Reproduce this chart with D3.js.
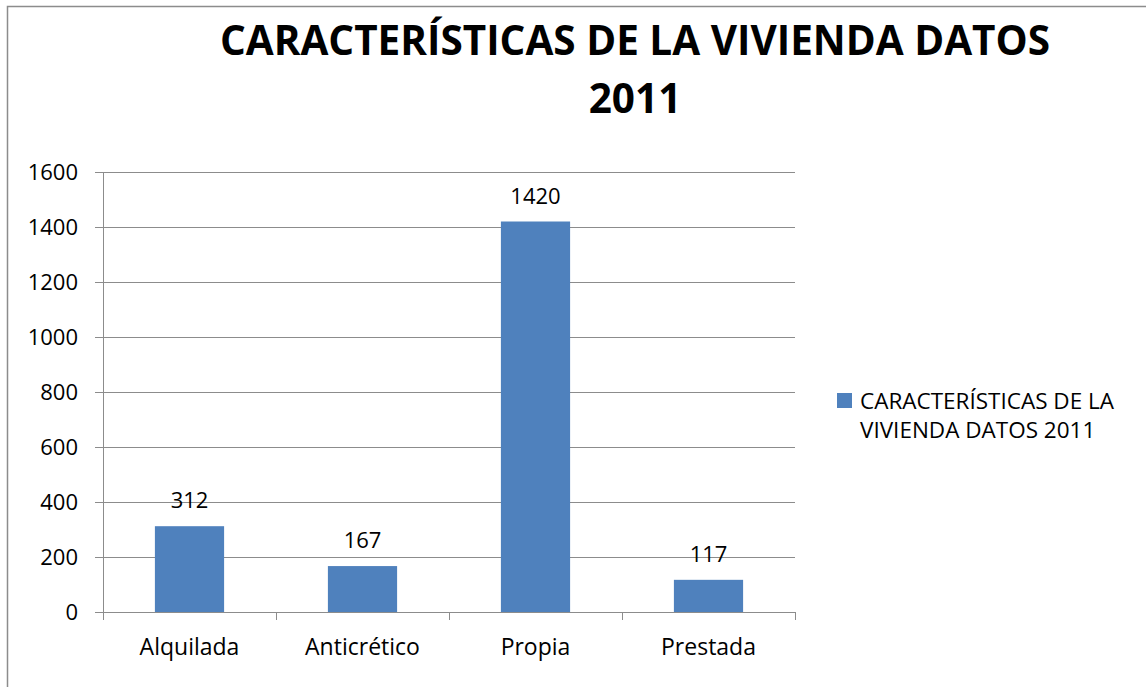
<!DOCTYPE html>
<html>
<head>
<meta charset="utf-8">
<title>Características de la vivienda</title>
<script src="https://cdn.jsdelivr.net/npm/d3@7"></script>
<style>
body { margin:0; background:#fff; }
.grid line { stroke:#8c8c8c; shape-rendering:crispEdges; }
.grid path { stroke-width:0; }
.axis path, .axis line { stroke:#8c8c8c; shape-rendering:crispEdges; }
text { font-family:"Open Sans", "Liberation Sans", sans-serif; fill:#000; }
</style>
</head>
<body>
<svg id="chart" width="1146" height="687"></svg>
<script>
// ---- data ----
var categories = ["Alquilada", "Anticrético", "Propia", "Prestada"]
var values = [312, 167, 1420, 117]
var yTicks = [0, 200, 400, 600, 800, 1000, 1200, 1400, 1600]
var titleLines = ["CARACTERÍSTICAS DE LA VIVIENDA DATOS", "2011"]
var legendLines = ["CARACTERÍSTICAS DE LA", "VIVIENDA DATOS 2011"]

var svg = d3.select("#chart")

// outer frame (runs off the right / bottom of the picture)
svg.append("rect")
  .attr("x", 7.5).attr("y", 6.5)
  .attr("width", 1200).attr("height", 800)
  .attr("fill", "white")
  .attr("stroke", "#8c8c8c")
  .attr("stroke-width", 1.5)

var plotLeft = 103, plotRight = 795, plotTop = 172, plotBottom = 612

var x = d3.scaleBand()
  .domain(categories)
  .range([plotLeft, plotRight])
  .paddingInner(0.6)
  .paddingOuter(0.3)

var y = d3.scaleLinear()
  .domain([0, 1600])
  .range([plotBottom, plotTop])

// horizontal gridlines
svg.append("g")
  .attr("class", "grid")
  .attr("transform", "translate(" + plotLeft + ",0)")
  .call(d3.axisLeft(y).tickValues(yTicks).tickSize(-(plotRight - plotLeft)).tickFormat(""))

// y axis
var yAxis = svg.append("g")
  .attr("class", "axis")
  .attr("transform", "translate(" + plotLeft + ",0)")
  .call(d3.axisLeft(y).tickValues(yTicks).tickSize(8).tickPadding(17).tickFormat(d3.format("d")))
yAxis.selectAll("text").attr("font-size", "22px").attr("dy", "0.36em")
yAxis.attr("font-family", null)

// bars
svg.selectAll("rect.bar")
  .data(values)
  .enter().append("rect")
  .attr("class", "bar")
  .attr("x", function(d, i) { return x(categories[i]) })
  .attr("y", function(d) { return y(d) })
  .attr("width", x.bandwidth())
  .attr("height", function(d) { return plotBottom - y(d) })
  .attr("fill", "#4f81bd")

// value labels
svg.selectAll("text.val")
  .data(values)
  .enter().append("text")
  .attr("class", "val")
  .attr("x", function(d, i) { return x(categories[i]) + x.bandwidth() / 2 })
  .attr("y", function(d) { return y(d) - 18 })
  .attr("text-anchor", "middle")
  .attr("font-size", "22px")
  .text(function(d) { return d })

// x axis: ticks on band edges
var edges = categories.map(function(c) { return x(c) - x.step() * x.paddingInner() / 2 })
edges.push(plotRight)
var xAxis = svg.append("g").attr("class", "axis")
xAxis.append("line")
  .attr("x1", plotLeft).attr("x2", plotRight)
  .attr("y1", plotBottom).attr("y2", plotBottom)
xAxis.selectAll("line.tk")
  .data(edges)
  .enter().append("line")
  .attr("class", "tk")
  .attr("x1", function(d) { return d }).attr("x2", function(d) { return d })
  .attr("y1", plotBottom).attr("y2", plotBottom + 8)
xAxis.selectAll("text")
  .data(categories)
  .enter().append("text")
  .attr("x", function(d) { return x(d) + x.bandwidth() / 2 })
  .attr("y", 655)
  .attr("text-anchor", "middle")
  .attr("font-size", "23px")
  .text(function(d) { return d })

// title
svg.selectAll("text.title")
  .data(titleLines)
  .enter().append("text")
  .attr("class", "title")
  .attr("x", 635)
  .attr("y", function(d, i) { return 55 + i * 58 })
  .attr("text-anchor", "middle")
  .attr("font-size", "40.5px")
  .attr("font-weight", "bold")
  .text(function(d) { return d })

// legend
svg.append("rect")
  .attr("x", 837).attr("y", 393)
  .attr("width", 15).attr("height", 15)
  .attr("fill", "#4f81bd")
svg.selectAll("text.leg")
  .data(legendLines)
  .enter().append("text")
  .attr("class", "leg")
  .attr("x", 860)
  .attr("y", function(d, i) { return 409 + i * 29 })
  .attr("font-size", "22.5px")
  .text(function(d) { return d })
</script>
</body>
</html>
